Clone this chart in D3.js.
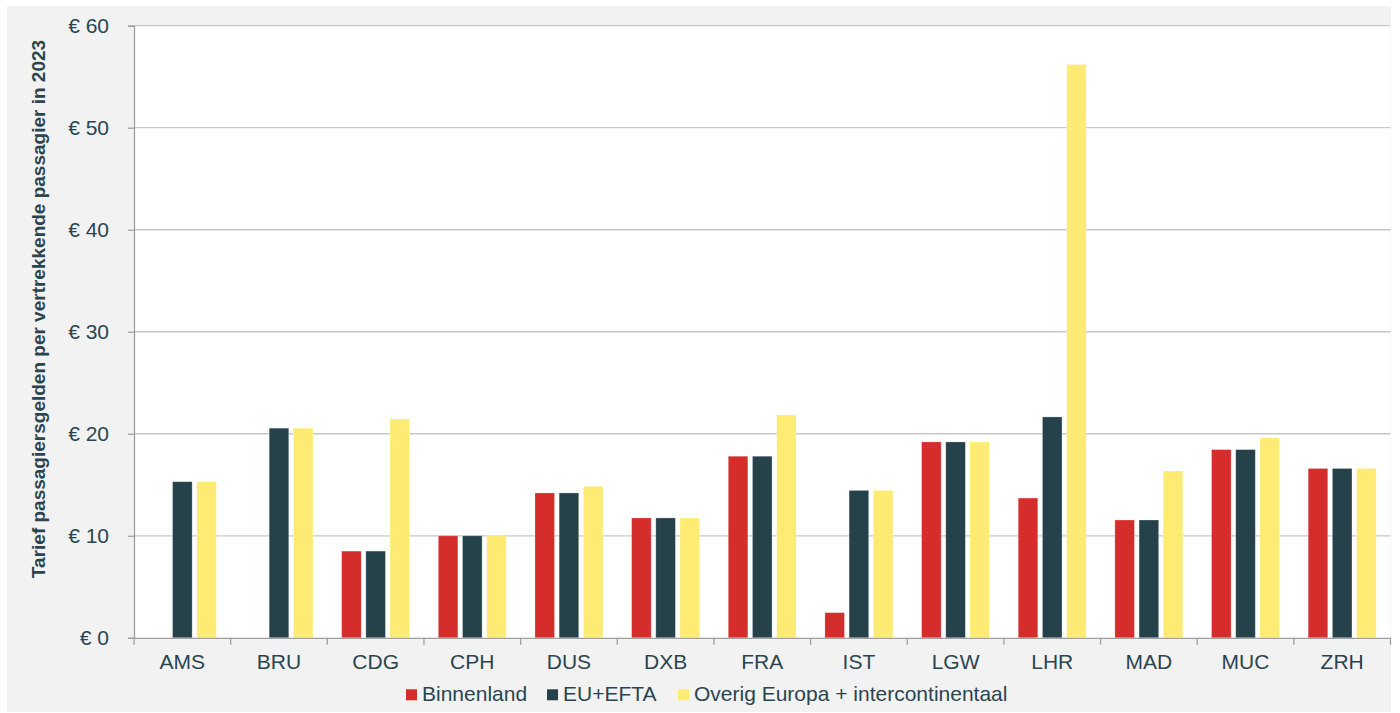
<!DOCTYPE html>
<html><head><meta charset="utf-8">
<script src="https://cdn.jsdelivr.net/npm/d3@7"></script>
<style>body{margin:0;background:#fff;}svg{display:block;font-family:"Liberation Sans",Arial,sans-serif;}</style>
</head><body>
<svg id="c" width="1400" height="713"></svg>
<script>
const categories = ["AMS","BRU","CDG","CPH","DUS","DXB","FRA","IST","LGW","LHR","MAD","MUC","ZRH"];
const seriesNames = ["Binnenland","EU+EFTA","Overig Europa + intercontinentaal"];
const binnenland = [null, null, 8.5, 10.0, 14.2, 11.75, 17.8, 2.47, 19.2, 13.7, 11.55, 18.45, 16.6];
const euEfta     = [15.3, 20.55, 8.5, 10.0, 14.2, 11.75, 17.8, 14.45, 19.2, 21.65, 11.55, 18.45, 16.6];
const overig     = [15.3, 20.55, 21.45, 10.0, 14.85, 11.75, 21.85, 14.45, 19.2, 56.2, 16.35, 19.6, 16.6];
const yTicks = [0,10,20,30,40,50,60];
const yTitle = "Tarief passagiersgelden per vertrekkende passagier in 2023";
const colors = ["#d42d2b","#25414a","#fdeb74"];

(function(){
const svg = d3.select("#c");
const textColor = "#2a4550";
svg.append("rect").attr("x",7).attr("y",6).attr("width",1384).attr("height",706).attr("fill","#f2f2f2");

const pL=134, pR=1390.5, pT=25.7, pB=637.8;
svg.append("rect").attr("x",pL).attr("y",pT).attr("width",pR-pL).attr("height",pB-pT).attr("fill","#fff");

const x0 = d3.scaleBand().domain(categories).range([pL,pR]).padding(0);
const x1 = d3.scaleBand().domain(seriesNames).range([0,x0.bandwidth()]).paddingInner(0.19).paddingOuter(0.592);
const y = d3.scaleLinear().domain([0,60]).range([pB,pT]);

// gridlines
svg.append("g").selectAll("line").data(yTicks.filter(d=>d>0)).join("line")
  .attr("x1",pL).attr("x2",pR).attr("y1",d=>y(d)).attr("y2",d=>y(d))
  .attr("stroke","#c8c8c8").attr("stroke-width",1.3);

// bars
const series = [binnenland, euEfta, overig];
series.forEach((vals,si)=>{
  svg.append("g").selectAll("rect").data(categories.map((c,i)=>({c,v:vals[i]})).filter(d=>d.v!=null)).join("rect")
    .attr("x",d=>x0(d.c)+x1(seriesNames[si]))
    .attr("width",x1.bandwidth())
    .attr("y",d=>y(d.v))
    .attr("height",d=>y(0)-y(d.v))
    .attr("fill",colors[si])
    .attr("stroke","#fff").attr("stroke-opacity",0.35).attr("stroke-width",0.8);
});

// y axis
const yAxis = d3.axisLeft(y).tickValues(yTicks).tickSize(6).tickPadding(19).tickFormat(d=>"€ "+d);
const gy = svg.append("g").attr("transform",`translate(${pL},0)`).call(yAxis);
gy.select(".domain").attr("stroke","#a0a0a0").attr("stroke-width",1.3);
gy.selectAll(".tick line").attr("stroke","#a0a0a0").attr("stroke-width",1.3);
gy.selectAll(".tick text").attr("fill",textColor).style("font-size","21px").style("font-family","Liberation Sans, Arial, sans-serif");

// x axis
const xAxis = d3.axisBottom(x0).tickSize(0).tickPadding(16);
const gx = svg.append("g").attr("transform",`translate(0,${pB})`).call(xAxis);
gx.select(".domain").attr("stroke","#a0a0a0").attr("stroke-width",1.3);
gx.selectAll(".tick text").attr("fill",textColor).style("font-size","21px").style("font-family","Liberation Sans, Arial, sans-serif");
const bounds = categories.map(c=>x0(c)).concat([pR]);
svg.append("g").selectAll("line").data(bounds).join("line")
  .attr("x1",d=>d).attr("x2",d=>d).attr("y1",pB).attr("y2",pB+7)
  .attr("stroke","#a0a0a0").attr("stroke-width",1.3);

// y title
svg.append("text").attr("transform",`translate(45,309) rotate(-90)`)
  .attr("text-anchor","middle").attr("fill",textColor)
  .style("font-size","19px").style("font-weight","bold").text(yTitle);

// legend
const legX = [406, 547, 678];
const lg = svg.append("g");
seriesNames.forEach((n,i)=>{
  lg.append("rect").attr("x",legX[i]).attr("y",689.3).attr("width",11).attr("height",11).attr("fill",colors[i]);
  lg.append("text").attr("x",legX[i]+16).attr("y",701.3).attr("fill",textColor).style("font-size","21px").text(n);
});
})();
</script>
</body></html>
